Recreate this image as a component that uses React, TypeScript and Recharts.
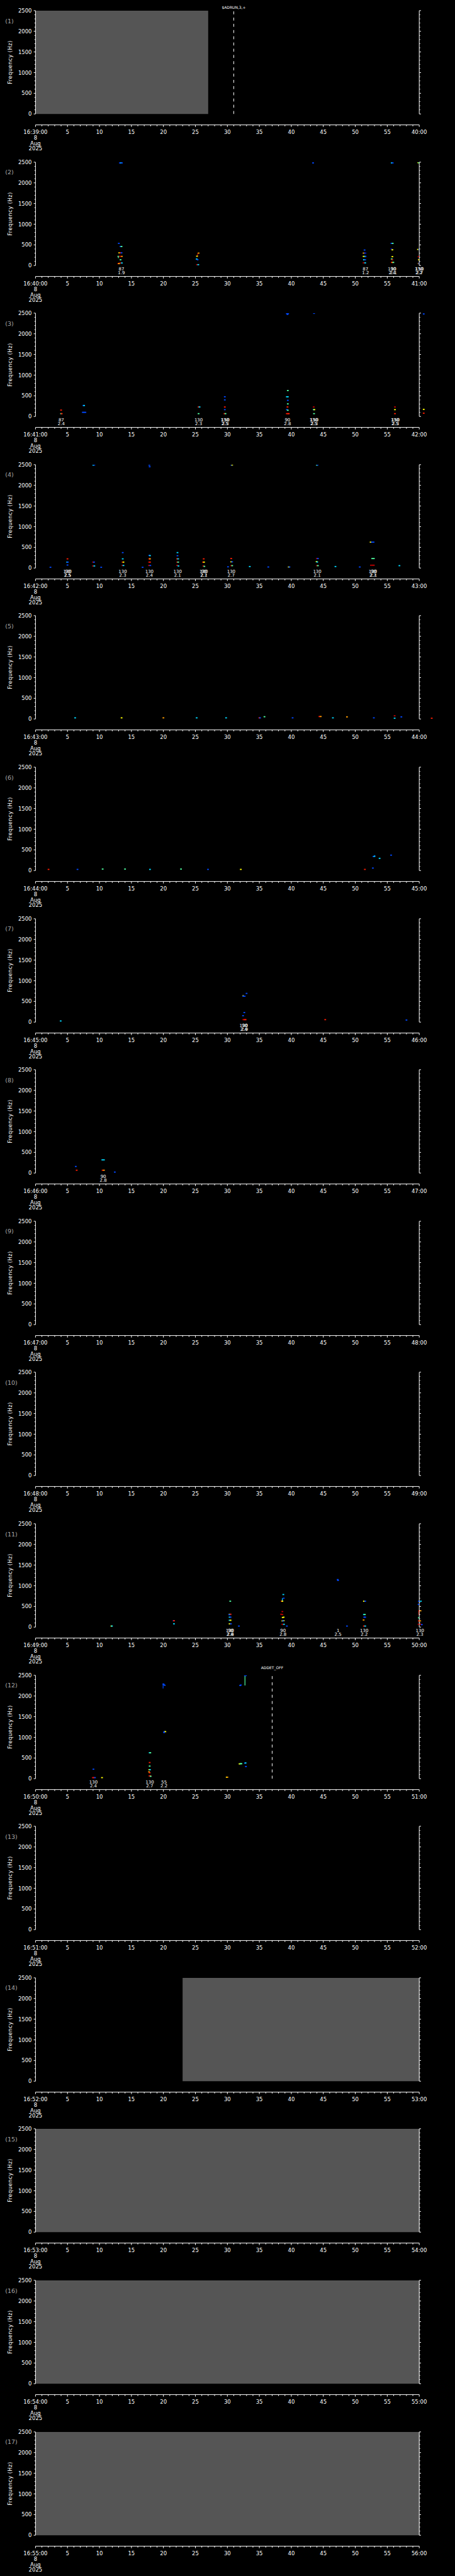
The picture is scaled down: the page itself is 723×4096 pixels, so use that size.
import {
  ComposedChart,
  Scatter,
  XAxis,
  YAxis,
  ReferenceArea,
  ReferenceLine,
  ReferenceDot,
} from "recharts";

// [seconds into the minute, frequency Hz, colour key]
type Mark = [number, number, string];
// [seconds, upper text, lower text]
type Tag = [number, string, string];
// [seconds, from Hz, to Hz, colour key]
type Stroke = [number, number, number, string];

const panelMinutes = [39, 40, 41, 42, 43, 44, 45, 46, 47, 48, 49, 50, 51, 52, 53, 54, 55];
const dateLines = ["8", "Aug", "2025"];
const freqTicks = [
  0, 100, 200, 300, 400, 500, 600, 700, 800, 900, 1000, 1100, 1200, 1300,
  1400, 1500, 1600, 1700, 1800, 1900, 2000, 2100, 2200, 2300, 2400, 2500,
];
const timeTicks = Array.from({ length: 61 }, (_, i) => i);

const palette: Record<string, string> = {
  B: "#0010b0",
  b: "#0048ff",
  c: "#00d8ff",
  g: "#50ffa0",
  y: "#ffff00",
  o: "#ff9c00",
  r: "#ff1c00",
  R: "#c00000",
};

const marks2: Mark[] = [
  [13.2, 2482, "b"], [13.4, 2482, "c"], [13.5, 2482, "b"],
  [13.03, 536, "b"], [13.3, 461, "b"], [13.45, 461, "g"],
  [13.1, 307, "y"], [13.25, 307, "r"], [13.45, 307, "b"],
  [12.96, 221, "g"], [13.15, 221, "R"], [13.3, 221, "R"], [13.5, 221, "o"],
  [13.3, 139, "g"], [12.96, 45, "r"], [13.1, 50, "y"],
  [13.2, 61, "R"], [13.35, 61, "R"], [13.5, 61, "c"],
  [25.5, 300, "o"], [25.25, 225, "y"], [25.2, 157, "c"], [25.35, 139, "b"],
  [25.25, 21, "R"], [25.45, 21, "c"],
  [43.4, 2482, "b"],
  [51.45, 375, "b"], [51.3, 300, "o"], [51.5, 300, "b"], [51.6, 300, "B"],
  [51.3, 221, "y"], [51.5, 221, "g"], [51.6, 221, "b"],
  [51.35, 139, "c"], [51.55, 139, "b"], [51.3, 64, "R"], [51.55, 64, "c"],
  [55.7, 2482, "c"], [55.85, 2482, "b"], [55.65, 536, "b"], [55.85, 536, "g"],
  [55.65, 400, "B"], [55.8, 380, "y"], [55.8, 214, "y"], [55.7, 157, "g"],
  [55.8, 139, "R"], [55.7, 75, "r"], [55.85, 75, "o"], [55.95, 75, "g"],
  [59.85, 2490, "y"], [59.95, 2490, "g"], [59.8, 389, "y"], [60, 389, "b"],
  [59.9, 214, "R"], [59.95, 139, "y"], [59.9, 50, "o"], [60, 50, "b"],
];
const strokes2: Stroke[] = [
  [12.96, 179, 221, "g"],
  [25.35, 221, 300, "R"],
];
const tags2: Tag[] = [
  [13.43, "87", "1.9"], [51.6, "87", "1.2"], [55.75, "130", "2.4"],
  [55.95, "90", "2.1"], [59.95, "130", "2.2"], [60.05, "150", "2.7"],
];

const marks3: Mark[] = [
  [4.0, 154, "r"], [4.0, 68, "g"], [4.1, 68, "r"],
  [7.5, 265, "b"], [7.6, 265, "c"], [7.4, 100, "b"], [7.6, 100, "b"], [7.8, 100, "b"],
  [25.5, 229, "r"], [25.65, 229, "c"], [25.5, 68, "g"],
  [29.6, 476, "b"], [29.6, 401, "b"], [29.6, 229, "r"], [29.6, 165, "b"],
  [29.55, 68, "r"], [29.7, 68, "g"],
  [39.3, 2490, "b"], [39.5, 2490, "b"], [39.4, 2470, "b"],
  [39.45, 627, "g"], [39.3, 476, "c"], [39.45, 476, "c"], [39.45, 390, "b"],
  [39.45, 304, "g"], [39.4, 229, "r"], [39.3, 165, "b"], [39.45, 150, "g"],
  [39.3, 68, "r"], [39.5, 68, "r"], [39.6, 68, "r"],
  [43.55, 2495, "b"], [43.5, 229, "R"], [43.5, 165, "c"], [43.6, 165, "y"], [43.55, 68, "g"],
  [56.2, 229, "R"], [56.2, 165, "y"], [56.2, 68, "r"],
  [60.7, 2480, "b"], [60.7, 172, "y"], [60.7, 79, "r"],
];
const tags3: Tag[] = [
  [4.03, "87", "2.4"], [25.5, "130", "2.3"], [29.6, "130", "2.5"], [29.7, "150", "2.3"],
  [39.4, "90", "2.8"], [43.5, "130", "2.5"], [43.6, "150", "2.3"],
  [56.2, "130", "2.5"], [56.3, "150", "2.3"],
];

const marks4: Mark[] = [
  [2.34, 18, "b"],
  [5.0, 222, "r"], [4.95, 143, "c"], [5.05, 143, "b"], [5.0, 72, "b"],
  [9.05, 2490, "c"], [9.2, 2495, "b"], [9.0, 143, "R"], [9.15, 143, "b"], [9.0, 50, "R"], [9.2, 50, "c"],
  [10.27, 18, "b"],
  [13.64, 373, "b"], [13.64, 222, "c"], [13.6, 143, "R"], [13.75, 143, "y"], [13.6, 61, "R"], [13.75, 61, "c"],
  [16.75, 18, "b"],
  [17.8, 2490, "b"], [17.85, 2450, "b"], [17.8, 305, "b"], [17.9, 300, "c"], [17.8, 222, "r"],
  [17.9, 222, "o"], [17.75, 143, "R"], [17.9, 143, "r"], [17.75, 61, "R"], [17.95, 61, "b"],
  [22.2, 373, "c"], [22.2, 298, "b"], [22.15, 222, "r"], [22.3, 222, "c"], [22.15, 143, "R"],
  [22.3, 143, "g"], [22.15, 65, "R"], [22.35, 50, "c"],
  [26.3, 222, "r"], [26.2, 143, "r"], [26.35, 143, "y"], [26.25, 50, "R"], [26.4, 40, "g"],
  [30.1, 29, "b"],
  [30.65, 2490, "b"], [30.75, 2495, "y"], [30.6, 229, "r"], [30.6, 150, "y"], [30.75, 150, "b"],
  [30.6, 57, "R"], [30.75, 57, "g"],
  [33.5, 36, "c"], [36.4, 25, "b"], [39.6, 25, "y"], [39.7, 25, "b"],
  [44.0, 2490, "g"], [44.1, 2495, "b"], [44.0, 229, "R"], [44.15, 229, "b"], [43.95, 155, "y"],
  [44.05, 145, "c"], [44.0, 57, "R"], [44.15, 57, "g"],
  [46.9, 36, "c"], [50.7, 25, "b"],
  [52.4, 627, "y"], [52.6, 627, "b"], [52.85, 627, "b"], [52.65, 229, "g"], [52.9, 229, "g"],
  [52.45, 68, "R"], [52.7, 68, "R"], [52.9, 68, "R"],
  [56.9, 57, "c"],
];
const tags4: Tag[] = [
  [5.0, "130", "2.5"], [5.05, "90", "2.5"], [13.64, "130", "2.3"], [17.81, "130", "2.4"],
  [22.22, "130", "2.1"], [26.3, "130", "2.7"], [26.35, "90", "2.1"], [30.6, "130", "2.7"],
  [44.05, "130", "2.1"], [52.75, "130", "2.7"], [52.85, "90", "2.1"],
];

const marks5: Mark[] = [
  [6.2, 27, "c"], [13.46, 27, "y"], [20.0, 27, "o"], [25.2, 27, "c"], [29.8, 27, "c"],
  [35.0, 27, "r"], [35.1, 27, "b"], [35.8, 54, "g"], [40.2, 27, "b"], [44.4, 59, "r"],
  [44.6, 59, "o"], [46.5, 27, "c"], [48.7, 50, "o"], [52.9, 27, "b"], [56.15, 77, "R"],
  [56.15, 18, "c"], [57.2, 50, "b"], [61.95, 18, "r"],
];

const marks6: Mark[] = [
  [2.04, 27, "r"], [6.57, 27, "b"], [10.5, 36, "g"], [14.0, 36, "g"], [17.9, 27, "c"],
  [22.75, 36, "g"], [26.97, 27, "b"], [32.1, 27, "y"], [51.5, 27, "r"], [52.75, 59, "b"],
  [52.85, 340, "b"], [53.0, 345, "c"], [53.8, 295, "c"], [55.6, 372, "b"],
];
const strokes6: Stroke[] = [[53.05, 340, 372, "b"]];

const marks7: Mark[] = [
  [3.94, 27, "c"], [33.0, 694, "b"], [32.5, 626, "b"], [32.7, 626, "b"], [32.65, 231, "b"],
  [32.45, 154, "b"], [32.5, 59, "R"], [32.7, 59, "r"], [32.85, 59, "r"], [45.3, 59, "r"],
  [58.0, 50, "b"],
];
const strokes7: Stroke[] = [[32.45, 617, 658, "y"]];
const tags7: Tag[] = [[32.55, "130", "2.4"], [32.7, "90", "2.9"]];

const marks8: Mark[] = [
  [6.3, 159, "b"], [6.44, 68, "r"], [10.45, 318, "c"], [10.7, 318, "c"],
  [10.5, 68, "r"], [10.7, 68, "o"], [12.4, 23, "b"],
];
const tags8: Tag[] = [[10.6, "90", "2.8"]];

const marks11: Mark[] = [
  [11.87, 25, "y"], [11.95, 25, "c"],
  [21.6, 154, "b"], [21.65, 154, "r"], [21.65, 79, "c"],
  [30.45, 627, "g"], [30.35, 311, "y"], [30.5, 311, "r"], [30.3, 301, "b"], [30.35, 240, "c"],
  [30.5, 240, "b"], [30.35, 165, "c"], [30.5, 165, "y"], [30.35, 79, "y"], [30.55, 79, "b"],
  [31.8, 25, "b"],
  [38.75, 788, "c"], [38.8, 698, "b"], [38.5, 627, "r"], [38.6, 627, "y"], [38.6, 376, "R"],
  [38.4, 311, "R"], [38.6, 304, "R"], [38.65, 233, "y"], [38.8, 240, "y"], [38.6, 150, "y"],
  [38.8, 155, "y"], [38.7, 150, "b"], [38.6, 68, "R"], [38.85, 68, "c"], [39.3, 25, "b"],
  [47.25, 1150, "b"], [47.3, 1130, "b"], [48.7, 25, "b"],
  [51.35, 627, "y"], [51.55, 627, "b"], [51.35, 304, "c"], [51.5, 304, "g"], [51.4, 240, "b"],
  [51.55, 240, "b"], [51.3, 172, "o"], [51.35, 25, "r"], [51.55, 25, "c"],
  [59.95, 627, "b"], [59.9, 548, "b"], [60.0, 394, "r"], [59.95, 226, "g"], [59.95, 150, "r"],
  [59.9, 68, "R"], [60.25, 627, "c"], [60.2, 394, "o"], [60.15, 150, "o"], [60.2, 68, "R"],
  [60.4, 60, "b"],
];
const strokes11: Stroke[] = [
  [38.6, 627, 698, "c"],
  [59.95, 294, 394, "r"],
];
const tags11: Tag[] = [
  [30.4, "130", "2.6"], [30.5, "90", "2.4"], [38.7, "90", "2.8"], [47.3, "1", "2.5"],
  [51.4, "130", "2.2"], [60.1, "130", "2.3"],
];

const marks12: Mark[] = [
  [8.95, 25, "R"], [9.1, 25, "r"], [9.3, 25, "b"], [9.06, 229, "b"], [10.4, 25, "y"],
  [17.85, 627, "c"], [17.95, 627, "g"], [17.85, 390, "r"], [17.85, 304, "g"], [17.8, 218, "y"],
  [17.9, 218, "c"], [17.75, 165, "o"], [17.85, 143, "r"], [17.8, 68, "R"], [17.95, 68, "r"],
  [18.0, 57, "g"],
  [20.0, 2290, "b"], [20.2, 2260, "b"], [20.05, 2275, "b"], [20.15, 1138, "b"], [20.3, 1138, "y"],
  [20.1, 1117, "b"],
  [29.9, 36, "y"], [30.0, 36, "o"],
  [32.0, 2255, "b"], [32.1, 2265, "b"], [32.75, 2495, "b"], [32.9, 2495, "b"],
  [31.9, 358, "y"], [32.05, 362, "g"], [32.2, 362, "g"], [32.75, 376, "b"], [32.85, 380, "c"],
  [32.9, 294, "b"],
];
const strokes12: Stroke[] = [
  [19.95, 2184, 2298, "b"],
  [32.75, 2255, 2495, "g"],
];
const tags12: Tag[] = [[9.06, "130", "2.4"], [17.86, "130", "2.7"], [20.1, "55", "2.2"]];

// stretches with no data (grey)
const gapPanels = [1, 14, 15, 16, 17];
const gapFrom = [0, 23, 0, 0, 0];
const gapTo = [27, 60, 60, 60, 60];

// command markers
const eventPanels = [1, 12];
const eventTimes = [31, 37];
const eventTexts = ["$ADRUN,3,+", "ADDET_OFF"];
const eventLift = [3.2, 9.7];

const marksByPanel: Record<number, Mark[]> = {
  2: marks2, 3: marks3, 4: marks4, 5: marks5, 6: marks6, 7: marks7, 8: marks8, 11: marks11, 12: marks12,
};
const strokesByPanel: Record<number, Stroke[]> = {
  2: strokes2, 6: strokes6, 7: strokes7, 11: strokes11, 12: strokes12,
};
const tagsByPanel: Record<number, Tag[]> = {
  2: tags2, 3: tags3, 4: tags4, 7: tags7, 8: tags8, 11: tags11, 12: tags12,
};

const FONT = "'DejaVu Sans', sans-serif";
const PANEL_H = 240.6;

document.body.style.margin = "0";
document.body.style.background = "#000";

const Pixel = (props: any) => {
  const { cx, cy, payload } = props;
  return <rect x={cx - 1.4} y={cy - 0.9} width={2.8} height={1.8} fill={palette[payload.c]} />;
};

const YTick = ({ x, y, payload, side }: any) => {
  const major = payload.value % 500 === 0;
  const dir = side === "left" ? -1 : 1;
  return (
    <g>
      <line x1={x} x2={x + dir * (major ? 2.8 : 1.6)} y1={y} y2={y} stroke="#fff" />
      {major && side === "left" && (
        <text x={x - 5.9} y={y + 3.1} textAnchor="end" fill="#fff" fontSize={8.5} fontFamily={FONT}>
          {payload.value}
        </text>
      )}
    </g>
  );
};

const XTick = ({ x, y, payload, minute }: any) => {
  const v = payload.value as number;
  const major = v % 5 === 0;
  let text = String(v);
  if (v === 0) text = `16:${minute}:00`;
  if (v === 60) text = `${minute + 1}:00`;
  return (
    <g>
      <line x1={x} x2={x} y1={y} y2={y + (major ? 3.2 : 2.2)} stroke="#fff" />
      {major && (
        <text x={x} y={y + 14.6} textAnchor="middle" fill="#fff" fontSize={8.5} fontFamily={FONT}>
          {text}
        </text>
      )}
      {v === 0 &&
        dateLines.map((d, i) => (
          <text key={d} x={x} y={y + 23.5 + i * 8.45} textAnchor="middle" fill="#fff" fontSize={8.5} fontFamily={FONT}>
            {d}
          </text>
        ))}
    </g>
  );
};

const Panel = ({ n, minute }: { n: number; minute: number }) => {
  const marks = marksByPanel[n] ?? [];
  const inside = marks.filter((m) => m[0] <= 60).map(([t, f, c]) => ({ t, f, c }));
  const outside = marks.filter((m) => m[0] > 60);
  const strokes = strokesByPanel[n] ?? [];
  const tags = tagsByPanel[n] ?? [];

  return (
    <div style={{ position: "absolute", left: 0, top: (n - 1) * PANEL_H, width: 723, height: PANEL_H }}>
      <ComposedChart width={723} height={PANEL_H} margin={{ top: 16.9, right: 46.8, bottom: 0, left: 0 }}>
        {gapPanels.map((p, i) =>
          p === n ? (
            <ReferenceArea
              key={`gap${i}`}
              xAxisId="time"
              yAxisId="left"
              x1={gapFrom[i]}
              x2={gapTo[i]}
              y1={0}
              y2={2500}
              fill="#555555"
              fillOpacity={1}
              stroke="none"
            />
          ) : null
        )}
        <Scatter
          data={inside}
          xAxisId="time"
          yAxisId="left"
          dataKey="f"
          shape={Pixel}
          isAnimationActive={false}
        />
        {outside.map(([t, f, c], i) => (
          <ReferenceDot
            key={`o${i}`}
            xAxisId="time"
            yAxisId="left"
            x={t}
            y={f}
            ifOverflow="visible"
            shape={(p: any) => <rect x={p.cx - 1.4} y={p.cy - 0.9} width={2.8} height={1.8} fill={palette[c]} />}
          />
        ))}
        {strokes.map(([t, f1, f2, c], i) => (
          <ReferenceLine
            key={`s${i}`}
            xAxisId="time"
            yAxisId="left"
            segment={[{ x: t, y: f1 }, { x: t, y: f2 }]}
            stroke={palette[c]}
            strokeWidth={1.2}
          />
        ))}
        {tags.map(([t, top, bottom], i) => (
          <ReferenceDot
            key={`t${i}`}
            xAxisId="time"
            yAxisId="left"
            x={t}
            y={0}
            ifOverflow="visible"
            shape={(p: any) => (
              <g>
                <text x={p.cx} y={p.cy + 7.4} textAnchor="middle" fill="#fff" fontSize={7} fontFamily={FONT}>
                  {top}
                </text>
                <text x={p.cx} y={p.cy + 14} textAnchor="middle" fill="#fff" fontSize={7} fontFamily={FONT}>
                  {bottom}
                </text>
              </g>
            )}
          />
        ))}
        {eventPanels.map((p, i) =>
          p === n ? (
            <ReferenceLine
              key={`e${i}`}
              xAxisId="time"
              yAxisId="left"
              x={eventTimes[i]}
              stroke="#fff"
              strokeDasharray="4.7 5.2"
              label={{
                value: eventTexts[i],
                position: "top",
                offset: eventLift[i],
                fill: "#fff",
                fontSize: 6,
                fontFamily: FONT,
              }}
            />
          ) : null
        )}
        <XAxis xAxisId="gap" type="number" domain={[0, 60]} allowDataOverflow height={17.4} axisLine={false} tickLine={false} tick={false} />
        <XAxis
          xAxisId="time"
          type="number"
          dataKey="t"
          domain={[0, 60]}
          allowDataOverflow
          ticks={timeTicks}
          interval={0}
          height={42}
          tickSize={0}
          tickMargin={0}
          tickLine={false}
          axisLine={{ stroke: "#fff" }}
          tick={(p: any) => <XTick {...p} minute={minute} />}
        />
        <YAxis
          yAxisId="left"
          type="number"
          dataKey="f"
          domain={[0, 2500]}
          allowDataOverflow
          ticks={freqTicks}
          interval={0}
          width={56.4}
          tickSize={0}
          tickMargin={0}
          tickLine={false}
          axisLine={{ stroke: "#fff" }}
          tick={(p: any) => <YTick {...p} side="left" />}
          label={{
            value: "Frequency (Hz)",
            angle: -90,
            position: "insideLeft",
            offset: 16.2,
            fill: "#fff",
            fontSize: 8.5,
            fontFamily: FONT,
            style: { textAnchor: "middle", letterSpacing: "0.4px" },
          }}
        />
        <YAxis
          yAxisId="right"
          orientation="right"
          type="number"
          domain={[0, 2500]}
          allowDataOverflow
          ticks={freqTicks}
          interval={0}
          width={10}
          tickSize={0}
          tickMargin={0}
          tickLine={false}
          axisLine={{ stroke: "#fff" }}
          tick={(p: any) => <YTick {...p} side="right" />}
        />
      </ComposedChart>
      <div
        style={{
          position: "absolute",
          left: 8.2,
          top: 27.5,
          color: "#a8a8a8",
          fontSize: 9.5,
          fontFamily: FONT,
          lineHeight: "11px",
        }}
      >
        ({n})
      </div>
    </div>
  );
};

export default function App() {
  return (
    <div style={{ position: "relative", width: 723, height: 4096, background: "#000" }}>
      {panelMinutes.map((m, i) => (
        <Panel key={m} n={i + 1} minute={m} />
      ))}
    </div>
  );
}
